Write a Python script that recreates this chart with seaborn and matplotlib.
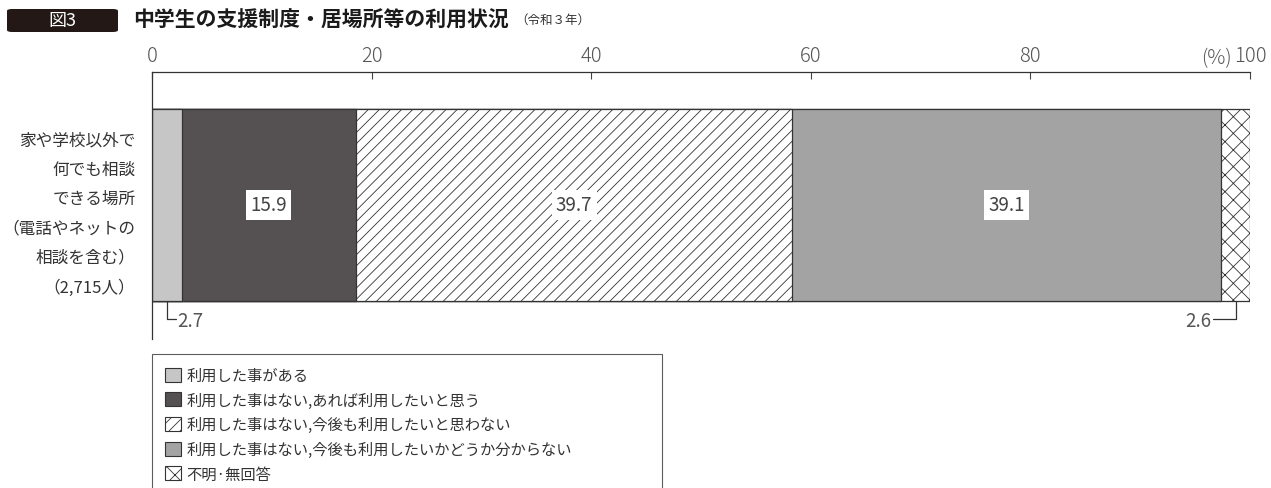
import numpy as np
import matplotlib.pyplot as plt
import seaborn as sns
from matplotlib.patches import Patch, FancyBboxPatch

# data
category = "家や学校以外で\n何でも相談\nできる場所\n（電話やネットの\n相談を含む）\n（2,715人）"
labels = ["利用した事がある",
          "利用した事はない,あれば利用したいと思う",
          "利用した事はない,今後も利用したいと思わない",
          "利用した事はない,今後も利用したいかどうか分からない",
          "不明·無回答"]
values = [2.7, 15.9, 39.7, 39.1, 2.6]
colors = ["#c6c6c6", "#555153", "white", "#a3a3a3", "white"]
hatches = ["", "", "///", "", "xx"]
ticks = [0, 20, 40, 60, 80, 100]

sns.set_style("white")
plt.rcParams['font.family'] = ['Noto Sans CJK JP', 'DejaVu Sans']
plt.rcParams['hatch.linewidth'] = 0.6

fig = plt.figure(figsize=(12.71, 4.89), dpi=100)
ax = fig.add_axes([152 / 1271, 1 - 340 / 489, 1098 / 1271, 267 / 489])

cum = np.cumsum(values)
# draw from the full stack down so each shorter bar sits on top
for i in reversed(range(len(values))):
    sns.barplot(x=[cum[i]], y=[category], orient="h", color=colors[i],
                saturation=1, hatch=hatches[i], edgecolor="#333333",
                linewidth=0.9, width=0.8, ax=ax)

ax.set_xlim(0, 100)
ax.set_ylim(0.5585, -0.554)
ax.xaxis.tick_top()
ax.set_xticks(ticks)
ax.set_xticklabels([str(t) for t in ticks])
ax.tick_params(axis="x", direction="in", length=5, width=0.8, color="#444444",
               pad=4, labelsize=14.5, labelcolor="#555555")
ax.tick_params(axis="y", length=0, pad=12, labelsize=12, labelcolor="#333333")
for t in ax.get_xticklabels():
    t.set_fontweight("light")
for t in ax.get_yticklabels():
    t.set_linespacing(1.95)
ax.set_xlabel("")
ax.set_ylabel("")
for s in ["right", "bottom"]:
    ax.spines[s].set_visible(False)
for s in ["top", "left"]:
    ax.spines[s].set_color("#333333")
    ax.spines[s].set_linewidth(0.9)

ax.annotate("(%)", xy=(100, 1), xycoords=("data", "axes fraction"),
            xytext=(-13, 3), textcoords="offset points", ha="right", va="bottom",
            fontsize=14.5, color="#555555", fontweight="light")

# value labels in the wide segments
starts = cum - np.array(values)
for i in [1, 2, 3]:
    ax.text(starts[i] + values[i] / 2, 0, f"{values[i]:.1f}", ha="center", va="center",
            fontsize=13.5, color="#444444",
            bbox=dict(boxstyle="square,pad=0.22", facecolor="white", edgecolor="none"))

# small segment callouts
c0 = values[0] / 2
ax.plot([c0, c0, c0 + 0.8], [0.4, 0.475, 0.475], color="#333333", lw=0.9, clip_on=False)
ax.text(c0 + 0.9, 0.48, f"{values[0]:.1f}", ha="left", va="center", fontsize=13.5, color="#555555")
c4 = starts[4] + values[4] / 2
ax.plot([c4, c4, c4 - 2.1], [0.4, 0.475, 0.475], color="#333333", lw=0.9, clip_on=False)
ax.text(c4 - 2.2, 0.48, f"{values[4]:.1f}", ha="right", va="center", fontsize=13.5, color="#555555")

# legend
handles = [Patch(facecolor=colors[i], hatch=hatches[i], edgecolor="#333333", linewidth=0.8)
           for i in range(len(values))]
leg = fig.legend(handles, labels, loc="upper left",
                 bbox_to_anchor=(152 / 1271, 1 - 355 / 489, 510 / 1271, 0), mode="expand",
                 fontsize=11, frameon=True, fancybox=False, edgecolor="#333333",
                 handlelength=1.05, handleheight=1.05, handletextpad=0.35,
                 labelspacing=0.5, borderpad=0.85, borderaxespad=0)
leg.get_frame().set_linewidth(0.8)
for t in leg.get_texts():
    t.set_color("#333333")

# title block
fig.patches.append(FancyBboxPatch((7 / 1271, 1 - 33 / 489), 111 / 1271, 23 / 489,
                                  boxstyle="round,pad=0,rounding_size=0.004",
                                  transform=fig.transFigure, facecolor="#231815",
                                  edgecolor="none"))
fig.text(62 / 1271, 1 - 21 / 489, "図3", color="white", fontsize=13,
         ha="center", va="center")
fig.text(133 / 1271, 1 - 20 / 489, "中学生の支援制度・居場所等の利用状況", fontsize=15,
         fontweight="bold", color="#1a1a1a", ha="left", va="center")
fig.text(515 / 1271, 1 - 20 / 489, "（令和３年）", fontsize=9, color="#333333",
         ha="left", va="center")

fig.savefig("out.png", dpi=100)
